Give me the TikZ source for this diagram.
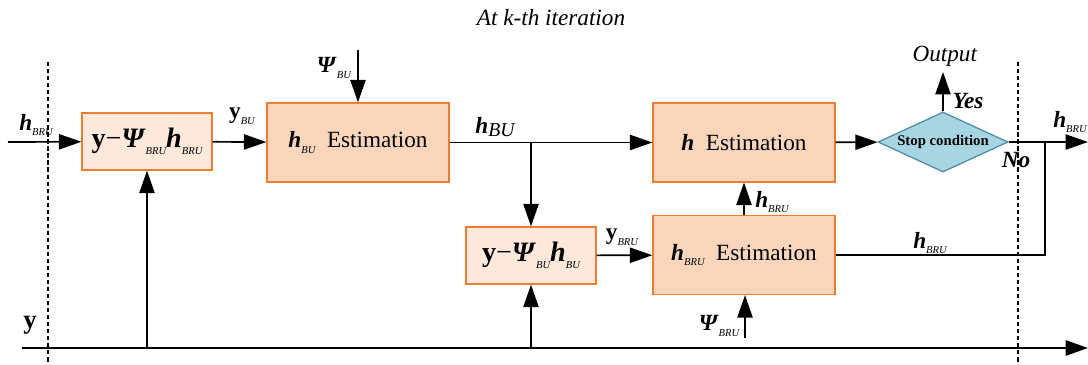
\documentclass[tikz,border=0pt]{standalone}
\usepackage{fontspec}
\setmainfont{Liberation Serif}
\usetikzlibrary{arrows.meta, shapes.geometric, positioning}
\definecolor{boxorange}{RGB}{237,125,49}
\definecolor{estfill}{RGB}{249,214,187}
\definecolor{subfill}{RGB}{252,233,220}
\definecolor{stopblue}{RGB}{168,213,226}
\definecolor{stopedge}{RGB}{80,140,165}
\newcommand{\hb}{\textbf{\textit{h}}}
\newcommand{\Psib}{\textbf{\textit{Ψ}}}
\newcommand{\yb}{\textbf{y}}
\newcommand{\sub}[1]{\raisebox{-0.55ex}{\fontsize{7.5}{8}\selectfont\itshape #1}}
\begin{document}
\begin{tikzpicture}[x=0.025cm, y=-0.025cm,
    every node/.style={font=\fontsize{16.5}{19}\selectfont},
    arr/.style={-{Triangle[length=0.56cm, width=0.38cm]}, line width=1.2pt},
    estbox/.style={draw=boxorange, fill=estfill, line width=0.9pt,
        minimum width=4.55cm, minimum height=1.975cm, inner sep=0pt},
    subbox/.style={draw=boxorange, fill=subfill, line width=0.9pt,
        minimum width=3.25cm, minimum height=1.425cm, inner sep=0pt,
        font=\fontsize{20}{22}\selectfont},
    stopbox/.style={diamond, draw=stopedge, fill=stopblue, line width=0.9pt,
        aspect=2.2, inner sep=0pt, minimum width=3.25cm, minimum height=1.5cm,
        font=\fontsize{10.5}{12}\selectfont\bfseries},
    bound/.style={densely dashed, line width=0.8pt}]
    \useasboundingbox (0,0) rectangle (1088,364);

    % Title
    \node[font=\fontsize{16.5}{19}\selectfont\itshape] (title) at (551,18) {At k-th iteration};

    % Iteration boundaries
    \draw[bound] (48,62) -- (48,364);
    \draw[bound] (1018,62) -- (1018,364);

    % Blocks
    \node[subbox] (subbru) at (147,141.5) {\yb−\Psib\sub{BRU}\hb\sub{BRU}};
    \node[estbox] (estbu) at (358,142.5) {\hb\sub{BU}~~Estimation};
    \node[subbox] (subbu) at (531,255.5) {\yb−\Psib\sub{BU}\hb\sub{BU}};
    \node[estbox] (esth) at (744,142.5) {\hb~~Estimation};
    \node[estbox] (estbru) at (744,255) {\hb\sub{BRU}~~Estimation};
    \node[stopbox] (stop) at (943,142) {Stop condition};

    % Free ends
    \coordinate (hin) at (8,142);
    \coordinate (psibu) at (358,50);
    \coordinate (split) at (531,142);
    \coordinate (psibru) at (745,338);
    \coordinate (out) at (943,72);
    \coordinate (hout) at (1088,142);
    \coordinate (join) at (1045,255);
    \coordinate (yin) at (22,348);
    \coordinate (yend) at (1088,348);
    \coordinate (tap1) at (147,348);
    \coordinate (tap2) at (531,348);

    % Upper path
    \draw[arr] (hin) -- (subbru);
    \node (hinlab) at (36,125) {\hb\sub{BRU}};
    \draw[arr] (subbru) -- (estbu);
    \node (ybulab) at (242,116) {\yb\sub{BU}};
    \draw[arr] (psibu) -- (psibu |- estbu.north);
    \node (psibulab) at (334,68) {\Psib\sub{BU}};
    \draw[arr] (estbu) -- (esth);
    \node (hbulab) at (495,127) {\hb\textit{\fontsize{14}{16}\selectfont\raisebox{-0.3ex}{BU}}};
    \draw[arr] (split) -- (subbu);

    % Lower path
    \draw[arr] (subbu) -- (estbru);
    \node (ybrulab) at (622,237) {\yb\sub{BRU}};
    \draw[arr] (psibru) -- (psibru |- estbru.south);
    \node (psibrulab) at (719,326) {\Psib\sub{BRU}};
    \draw[arr] (estbru) -- (esth);
    \node (hbruup) at (772,202) {\hb\sub{BRU}};

    % Stop test
    \draw[arr] (esth) -- (stop);
    \draw[arr] (stop.north) -- (out);
    \node (outlab) at (945,56) {\textit{Output}};
    \node (yeslab) at (968,101) {\textbf{\textit{Yes}}};
    \draw[arr] (stop.east) -- (hout);
    \node (nolab) at (1016,160) {\textbf{\textit{No}}};
    \node (houtlab) at (1070,122) {\hb\sub{BRU}};
    \draw[line width=1.2pt] (estbru) -- (join) -- (join |- stop.east);
    \node (hbrulab) at (930,243) {\hb\sub{BRU}};

    % Received signal
    \draw[arr, line width=1.6pt] (yin) -- (yend);
    \node[font=\fontsize{19}{21}\selectfont] (ylab) at (30,325) {\yb};
    \draw[arr] (tap1) -- (subbru);
    \draw[arr] (tap2) -- (subbu);
\end{tikzpicture}
\end{document}
